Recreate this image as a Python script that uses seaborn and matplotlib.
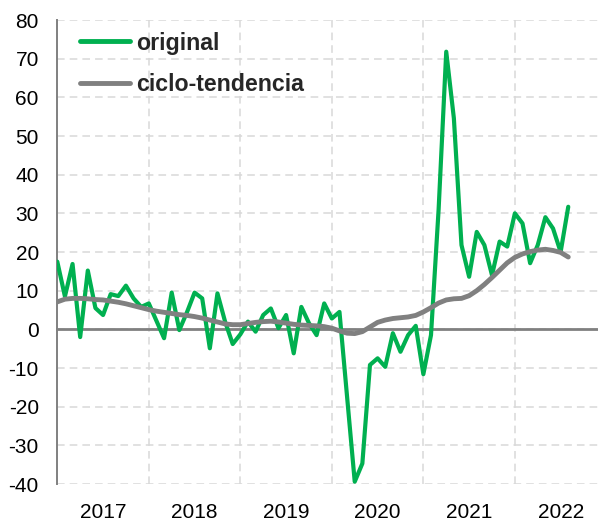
import numpy as np
import pandas as pd
import matplotlib
matplotlib.use("Agg")
import matplotlib.pyplot as plt
import seaborn as sns

# ---- data (monthly, Jan 2017 .. Aug 2022) ----
years = ["2017", "2018", "2019", "2020", "2021", "2022"]
series_names = ["original", "ciclo-tendencia"]
original = [17.5, 8.5, 16.9, -2.0, 15.2, 5.5, 3.7, 9.1, 8.6, 11.3, 8.0, 5.8,
            6.7, 2.2, -2.3, 9.5, -0.2, 4.4, 9.5, 8.0, -4.9, 9.3, 2.0, -3.8,
            -1.3, 2.0, -0.6, 3.7, 5.4, 0.3, 3.7, -6.2, 5.8, 1.6, -1.5, 6.7,
            2.8, 4.5, -17.5, -39.4, -34.7, -9.2, -7.5, -9.7, -1.0, -5.8, -1.5, 0.9,
            -11.6, -1.5, 31.0, 71.8, 54.6, 21.8, 13.6, 25.2, 21.8, 14.0, 22.7, 21.4,
            30.0, 27.4, 17.1, 21.8, 29.0, 26.1, 20.0, 31.7]
tendencia = [7.1, 7.8, 8.0, 8.0, 7.9, 7.7, 7.6, 7.3, 7.0, 6.6, 6.1, 5.6,
             5.1, 4.7, 4.4, 4.1, 3.8, 3.6, 3.3, 2.9, 2.4, 1.9, 1.4, 1.2,
             1.2, 1.5, 1.8, 2.0, 2.1, 1.9, 1.6, 1.3, 1.1, 1.0, 0.9, 0.7,
             0.3, -0.4, -1.0, -1.1, -0.6, 0.6, 1.8, 2.4, 2.8, 3.0, 3.2, 3.6,
             4.5, 5.6, 6.8, 7.6, 7.9, 8.0, 8.7, 10.0, 11.6, 13.4, 15.3, 17.2,
             18.6, 19.5, 20.1, 20.5, 20.7, 20.4, 19.9, 18.7]
y_ticks = [-40, -30, -20, -10, 0, 10, 20, 30, 40, 50, 60, 70, 80]

n = len(original)
months = np.arange(n)
df = pd.DataFrame({
    "mes": np.concatenate([months, months]),
    "valor": original + tendencia,
    "serie": [series_names[0]] * n + [series_names[1]] * n,
})

GREEN = "#00B050"
GRAY = "#808080"
GRID = "#D9D9D9"

sns.set_style("white")
plt.rcParams["font.family"] = ["Liberation Sans", "DejaVu Sans"]

fig = plt.figure(figsize=(5.98, 5.27), dpi=100)
ax = fig.add_axes([57.3 / 598, 1 - 484 / 527, 1 - 57.3 / 598, 464 / 527])

sns.lineplot(data=df[df.serie == series_names[0]], x="mes", y="valor",
             color=GREEN, linewidth=3.0, ax=ax, label=series_names[0], zorder=3)
sns.lineplot(data=df[df.serie == series_names[1]], x="mes", y="valor",
             color=GRAY, linewidth=3.5, ax=ax, label=series_names[1], zorder=4)

ax.set_xlim(0, 70.9)
ax.set_ylim(-40, 80)
ax.set_xlabel("")
ax.set_ylabel("")

# grid
ax.set_yticks(y_ticks)
ax.set_yticklabels([str(v) for v in y_ticks])
ax.set_xticks([0, 12, 24, 36, 48, 60])
ax.set_xticklabels([])
ax.grid(True, color=GRID, linewidth=1.1, linestyle=(0, (5, 3.3)), zorder=0)
ax.set_axisbelow(True)

# spines
for s in ["top", "right"]:
    ax.spines[s].set_visible(False)
ax.spines["left"].set_color(GRAY)
ax.spines["left"].set_linewidth(1.4)
ax.spines["bottom"].set_position(("data", 0))
ax.spines["bottom"].set_color(GRAY)
ax.spines["bottom"].set_linewidth(2.0)
ax.spines["bottom"].set_zorder(2.5)

ax.tick_params(axis="y", direction="inout", length=8.6, width=1.4, color=GRAY,
               labelsize=15, pad=9, labelcolor="black")
ax.tick_params(axis="x", direction="inout", length=8.6, width=1.6, color=GRAY)

# year labels at the bottom
sec = ax.secondary_xaxis(location=0)
sec.set_xticks([6, 18, 30, 42, 54, 66], labels=years)
sec.tick_params(length=0, labelsize=15, pad=14, labelcolor="black")
sec.spines["bottom"].set_visible(False)

leg = ax.legend(loc="upper left", bbox_to_anchor=(0.042, 0.975), frameon=False,
                borderpad=0, borderaxespad=0, handlelength=2.15, handletextpad=0.25,
                labelspacing=0.78, prop={"weight": "bold", "size": 16.7})
for h in leg.get_lines():
    h.set_linewidth(3.5)

fig.savefig("out.png", dpi=100)
